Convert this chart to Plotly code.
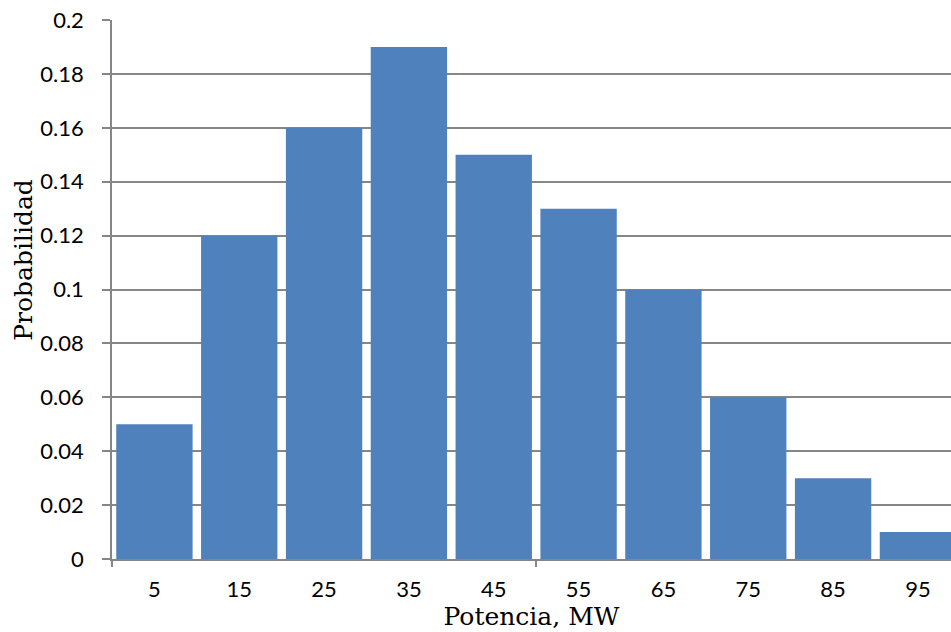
import plotly.graph_objects as go

categories = ["5", "15", "25", "35", "45", "55", "65", "75", "85", "95"]
probabilities = [0.05, 0.12, 0.16, 0.19, 0.15, 0.13, 0.10, 0.06, 0.03, 0.01]
y_ticks = [0, 0.02, 0.04, 0.06, 0.08, 0.1, 0.12, 0.14, 0.16, 0.18, 0.2]
y_ticktext = ["0", "0.02", "0.04", "0.06", "0.08", "0.1", "0.12", "0.14", "0.16", "0.18", "0.2"]

x_pos = list(range(len(categories)))
xr = [-0.5, 9.39]
grid = "#868686"
tickfont = dict(family="Lato, 'Open Sans', sans-serif", size=22, color="#000000")
titlefont = dict(family="'DejaVu Serif', 'Liberation Serif', serif", size=25, color="#000000")

fig = go.Figure()
fig.add_trace(go.Bar(x=x_pos, y=probabilities, marker=dict(color="#4F81BD", line=dict(width=0)),
                     showlegend=False, cliponaxis=True))
# invisible trace to carry the secondary x axis (boundary tick marks)
fig.add_trace(go.Scatter(x=[xr[0]], y=[0], xaxis="x2", mode="markers",
                         marker=dict(opacity=0), showlegend=False, hoverinfo="skip"))

fig.update_layout(
    width=951, height=632,
    margin=dict(l=112, r=0, t=20, b=73),
    paper_bgcolor="white", plot_bgcolor="white",
    bargap=0.1,
    xaxis=dict(range=xr, tickvals=x_pos, ticktext=categories, tickfont=tickfont,
               ticks="outside", ticklen=10, tickcolor="rgba(0,0,0,0)",
               showgrid=False, showline=True, linecolor=grid, linewidth=1.5,
               zeroline=False,
               title=dict(text="Potencia, MW", font=titlefont, standoff=3)),
    xaxis2=dict(range=xr, overlaying="x", anchor="y", side="bottom",
                tickvals=[-0.5, 4.5], ticks="outside", ticklen=7, tickcolor=grid,
                tickwidth=1.5, showticklabels=False, showgrid=False, showline=False,
                zeroline=False),
    yaxis=dict(range=[0, 0.2], tickvals=y_ticks, ticktext=y_ticktext, tickfont=tickfont,
               ticks="outside", ticklen=8, tickcolor=grid, tickwidth=1.5,
               ticklabelstandoff=14,
               showgrid=True, gridcolor=grid, gridwidth=1.5,
               showline=True, linecolor=grid, linewidth=1.5, zeroline=False),
    annotations=[dict(text="Probabilidad", font=titlefont, textangle=-90,
                      xref="paper", yref="paper", x=-0.105, y=0.555,
                      xanchor="center", yanchor="middle", showarrow=False)],
)

fig.write_html("out.html", config={"displayModeBar": False},
               post_script="document.body.style.margin='0';document.body.style.overflow='hidden';")
